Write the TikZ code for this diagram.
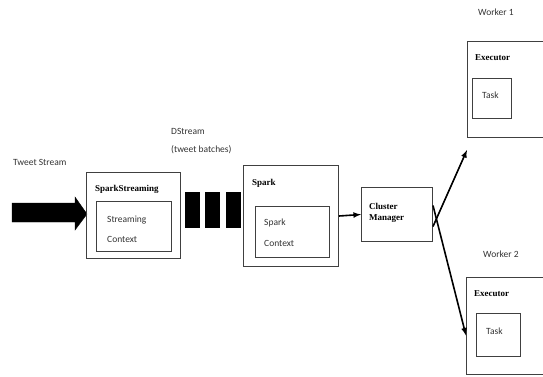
\documentclass[tikz,border=0pt]{standalone}
\usepackage{fontspec}
\setmainfont{Liberation Serif}
\newfontfamily\calib{Carlito}
\usepackage{tikz}
\usetikzlibrary{shapes,arrows,positioning}

\tikzset{
  box/.style={draw=black!75, line width=1pt, anchor=north west, inner sep=0pt},
  batch/.style={fill=black, draw=black, anchor=north west, inner sep=0pt, minimum width=14pt, minimum height=35pt},
  hdr/.style={anchor=west, inner sep=0pt, font=\fontsize{9}{10}\selectfont\bfseries},
  txt/.style={anchor=west, inner sep=0pt, font=\calib\fontsize{9.5}{10}\selectfont, text=black!80},
  flow/.style={-latex, line width=1.6pt}
}

\begin{document}
\begin{tikzpicture}[x=1pt,y=1pt,yscale=-1,xscale=1]
\path[use as bounding box, clip] (0,0) rectangle (543,376);
%Tweet stream input arrow
\draw [fill=black] (12,203) -- (75,203) -- (75,197) -- (87,214) -- (75,230) -- (75,222) -- (12,222) -- cycle ;
% Text Node
\node[txt] (tweet) at (13,162) {Tweet Stream};
%Spark Streaming box
\node[box, minimum width=94pt, minimum height=86pt] (stream) at (86,172) {};
\node[box, minimum width=75pt, minimum height=50pt] (sctx) at (96,201) {};
\node[hdr] (streamlbl) at (95,189) {SparkStreaming};
\node[txt] at (107,220) {Streaming};
\node[txt] at (107,239) {Context};
%DStream batches
\node[batch] (batch1) at (185,192) {};
\node[batch, right=6pt of batch1.north east, anchor=north west] (batch2) {};
\node[batch, right=6pt of batch2.north east, anchor=north west] (batch3) {};
\node[txt] (dstream) at (171,131) {DStream};
\node[txt] at (171,150) {(tweet batches)};
%Spark box
\node[box, minimum width=95pt, minimum height=101pt] (spark) at (243,165) {};
\node[box, minimum width=74pt, minimum height=51pt] (spctx) at (255,206) {};
\node[hdr] at (252,183) {Spark};
\node[txt] at (264,223) {Spark};
\node[txt] at (264,243) {Context};
%Cluster Manager
\node[box, minimum width=71pt, minimum height=54pt] (cluster) at (361,187) {};
\node[hdr, align=left, font=\fontsize{9}{11}\selectfont\bfseries] at (369,213) {Cluster\\Manager};
%Worker 1
\node[txt] (w1) at (478,12) {Worker 1};
\node[box, minimum width=100pt, minimum height=96pt] (exec1) at (467,41) {};
\node[box, minimum width=39pt, minimum height=40pt] (task1) at (472,78) {};
\node[hdr] at (475,58) {Executor};
\node[txt] at (482,95) {Task};
%Worker 2
\node[txt] (w2) at (483,254) {Worker 2};
\node[box, minimum width=100pt, minimum height=97pt] (exec2) at (466,277) {};
\node[box, minimum width=44pt, minimum height=43pt] (task2) at (476,313) {};
\node[hdr] at (474,294) {Executor};
\node[txt] at (486,331) {Task};
%Connectors
\draw[flow] (spark.east) -- (cluster.west);
\draw[flow] ([yshift=12pt]cluster.east) -- ([yshift=12pt]exec1.south west);
\draw[flow] ([yshift=-9pt]cluster.east) -- ([yshift=9.5pt]exec2.west);
\end{tikzpicture}
\end{document}
